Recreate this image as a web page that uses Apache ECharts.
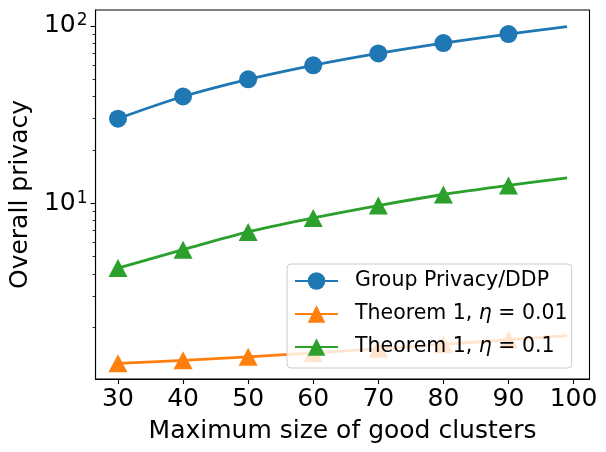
<!DOCTYPE html>
<html style="height: 100%">
<head>
  <meta charset="utf-8">
  <title>Overall privacy</title>
  <script src="https://cdn.jsdelivr.net/npm/echarts@6/dist/echarts.min.js"></script>
</head>
<body style="height: 100%; margin: 0; background: #fff">
  <div id="container" style="width: 606px; height: 452px"></div>
  <script>
    // data
    const sizes = [30, 40, 50, 60, 70, 80, 90, 99];
    const groupPrivacy = [30, 40, 50, 60, 70, 80, 90, 99];
    const thm1Eta001 = [1.25, 1.30, 1.36, 1.43, 1.51, 1.60, 1.70, 1.79];
    const thm1Eta01 = [4.31, 5.47, 6.89, 8.26, 9.70, 11.2, 12.6, 13.9];
    const xTicks = [30, 40, 50, 60, 70, 80, 90, 100];
    const yMinorTicks = [2, 3, 4, 5, 6, 7, 8, 9, 20, 30, 40, 50, 60, 70, 80, 90];

    const font = 'DejaVu Sans';

    // markers only every 10, the last point (99) just carries the line
    function points(ys) {
      return sizes.map((x, i) => {
        const item = { value: [x, ys[i]] };
        if (x % 10 !== 0) item.symbol = 'none';
        return item;
      });
    }

    function lineSeries(name, ys, color, symbol) {
      return {
        type: 'line',
        name: name,
        data: points(ys),
        smooth: 0.35,
        symbol: symbol,
        symbolSize: symbol === 'circle' ? 18 : [19, 18],
        lineStyle: { color: color, width: 2.8 },
        itemStyle: { color: color },
        emphasis: { disabled: true },
        animation: false
      };
    }

    const chart = echarts.init(document.getElementById('container'));

    const option = {
      animation: false,
      textStyle: { fontFamily: font, color: '#000' },
      grid: {
        left: 93, right: 16.5, top: 10, bottom: 73,
        show: true, borderColor: '#000', borderWidth: 1.1,
        backgroundColor: 'transparent'
      },
      legend: {
        orient: 'vertical',
        left: 287, top: 264,
        padding: [5, 4, 9, 7],
        itemGap: 9,
        itemWidth: 43,
        itemHeight: 22,
        backgroundColor: 'rgba(255,255,255,0.8)',
        borderColor: '#cccccc',
        borderWidth: 1,
        borderRadius: 4,
        z: 10,
        formatter: name => name.replace('η', '{i|η}'),
        textStyle: {
          fontFamily: font, fontSize: 20.5, color: '#000', lineHeight: 24,
          padding: [0, 0, 0, 12],
          rich: {
            i: { fontFamily: font, fontStyle: 'italic', fontSize: 20.5, color: '#000', lineHeight: 24 }
          }
        }
      },
      xAxis: {
        type: 'value',
        min: 26.55,
        max: 102.45,
        name: 'Maximum size of good clusters',
        nameLocation: 'middle',
        nameGap: 40,
        nameTextStyle: { fontFamily: font, fontSize: 25, color: '#000' },
        axisLine: { lineStyle: { color: '#000', width: 1.1 } },
        axisTick: { show: true, length: 5, lineStyle: { color: '#000', width: 1.1 }, customValues: xTicks },
        axisLabel: { fontFamily: font, fontSize: 25, color: '#000', margin: 8, customValues: xTicks },
        splitLine: { show: false }
      },
      yAxis: [
        {
          type: 'log',
          logBase: 10,
          min: 1.02,
          max: 123,
          name: 'Overall privacy',
          nameLocation: 'middle',
          nameGap: 54,
          nameTextStyle: { fontFamily: font, fontSize: 25, color: '#000' },
          axisLine: { show: true, lineStyle: { color: '#000', width: 1.1 } },
          axisTick: { show: true, length: 5, lineStyle: { color: '#000', width: 1.1 } },
          axisLabel: {
            fontFamily: font, fontSize: 25, color: '#000', margin: 8,
            showMinLabel: false, showMaxLabel: false,
            formatter: v => {
              const e = Math.log10(v);
              if (Math.abs(e - Math.round(e)) > 1e-6) return '';
              return '10{sup|' + Math.round(e) + '}';
            },
            rich: {
              sup: { fontFamily: font, fontSize: 17, color: '#000', verticalAlign: 'top', padding: [0, 0, 10, 1] }
            }
          },
          splitLine: { show: false }
        },
        {
          // minor ticks of the log axis
          type: 'log',
          logBase: 10,
          min: 1.02,
          max: 123,
          position: 'left',
          axisLine: { show: false },
          axisTick: { show: true, length: 3, lineStyle: { color: '#000', width: 0.8 }, customValues: yMinorTicks },
          axisLabel: { show: false },
          splitLine: { show: false }
        }
      ],
      series: [
        lineSeries('Group Privacy/DDP', groupPrivacy, '#1f77b4', 'circle'),
        lineSeries('Theorem 1, η = 0.01', thm1Eta001, '#ff7f0e', 'triangle'),
        lineSeries('Theorem 1, η = 0.1', thm1Eta01, '#2ca02c', 'triangle')
      ]
    };

    chart.setOption(option);
  </script>
</body>
</html>
